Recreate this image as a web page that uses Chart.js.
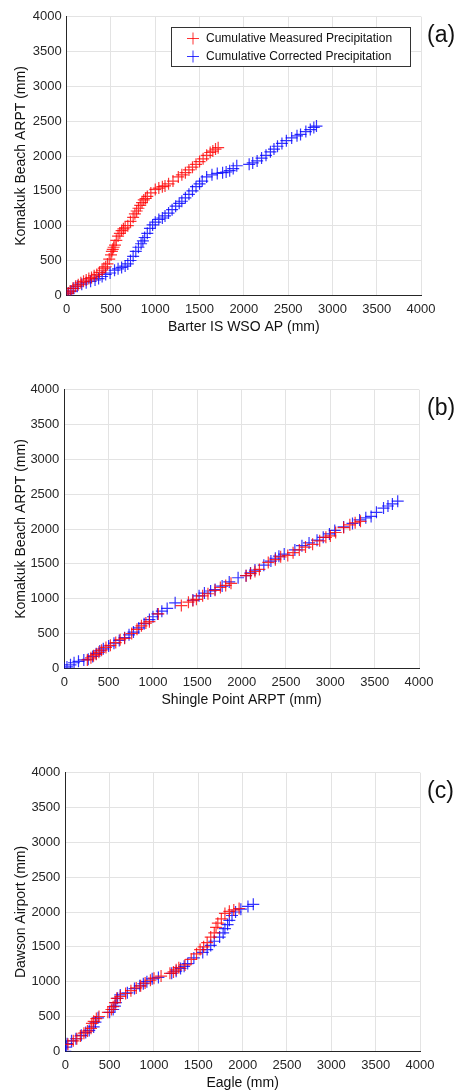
<!DOCTYPE html>
<html>
<head>
<meta charset="utf-8">
<script src="https://cdn.jsdelivr.net/npm/chart.js@4.4.1/dist/chart.umd.min.js"></script>
<style>
  html, body { margin: 0; padding: 0; background: #fff; }
  body { width: 459px; height: 1090px; position: relative; overflow: hidden; font-family: "Liberation Sans", Arial, sans-serif; }
  .panel { position: absolute; left: 0; width: 459px; height: 340px; }
  .tag { position: absolute; left: 427px; font-size: 23px; color: #111; line-height: 1; }
</style>
</head>
<body>
<div class="panel" style="top:0px"><canvas id="chartA" width="459" height="340"></canvas></div>
<div class="panel" style="top:372.6px"><canvas id="chartB" width="459" height="340"></canvas></div>
<div class="panel" style="top:755.6px"><canvas id="chartC" width="459" height="340"></canvas></div>
<div class="tag" style="top:23px">(a)</div>
<div class="tag" style="top:396px">(b)</div>
<div class="tag" style="top:779px">(c)</div>

<script>
// --- DATA (mm, cumulative) ---
const axisTicks = [0, 500, 1000, 1500, 2000, 2500, 3000, 3500, 4000];
const seriesNames = ['Cumulative Measured Precipitation', 'Cumulative Corrected Precipitation'];

// (a) Barter IS WSO AP vs Komakuk Beach ARPT
const aMeasX = [0,15,40,70,100,130,160,190,220,250,280,310,340,370,400,420,440,460,480,500,510,520,530,545,560,580,600,620,640,660,690,720,750,770,790,810,830,850,870,890,910,950,1000,1040,1080,1110,1150,1200,1260,1300,1340,1380,1420,1460,1500,1540,1580,1620,1650,1680,1710];
const aMeasY = [0,30,60,100,130,150,180,200,220,240,255,280,300,330,360,390,410,450,520,580,630,660,690,720,790,850,890,930,955,970,1000,1060,1120,1170,1210,1250,1290,1330,1370,1390,1420,1470,1520,1540,1560,1570,1600,1640,1700,1730,1760,1800,1840,1880,1920,1960,2010,2050,2070,2100,2120];
const aCorrX = [0,20,50,80,120,170,220,270,320,360,400,440,490,540,580,620,660,690,720,750,780,810,840,860,880,910,940,970,1000,1040,1080,1110,1150,1190,1230,1270,1300,1340,1380,1420,1460,1500,1530,1580,1640,1700,1760,1800,1840,1880,1920,2060,2100,2150,2200,2250,2300,2340,2380,2430,2480,2540,2600,2640,2700,2750,2790,2820];
const aCorrY = [0,30,60,100,130,160,180,200,220,240,270,300,320,360,380,400,420,450,500,560,630,690,740,780,830,890,960,1010,1050,1090,1110,1140,1180,1230,1280,1320,1350,1400,1450,1500,1560,1600,1640,1700,1730,1750,1760,1770,1790,1820,1860,1880,1900,1930,1970,2010,2060,2100,2140,2180,2220,2260,2290,2310,2350,2380,2410,2430];

// (b) Shingle Point ARPT vs Komakuk Beach ARPT
const bMeasX = [260,300,330,360,390,420,470,520,580,630,680,760,820,870,920,960,1060,1320,1400,1450,1490,1560,1620,1700,1760,1820,1880,2050,2100,2150,2200,2300,2380,2440,2520,2580,2650,2720,2800,2880,2950,3000,3060,3150,3220,3280,3340];
const bMeasY = [120,150,180,200,230,260,300,330,370,410,430,500,560,610,650,670,780,900,950,970,990,1040,1070,1120,1160,1190,1220,1330,1360,1390,1420,1520,1560,1600,1620,1660,1700,1740,1780,1830,1880,1900,1950,2020,2060,2090,2110];
const bCorrX = [0,30,70,110,160,220,270,320,360,400,440,500,560,620,680,730,780,840,900,960,1000,1050,1100,1160,1250,1450,1520,1580,1650,1700,1780,1860,1960,2050,2100,2150,2250,2330,2380,2420,2480,2600,2680,2760,2850,2920,2990,3050,3150,3250,3330,3400,3460,3520,3600,3650,3700,3760];
const bCorrY = [0,20,50,80,100,120,130,170,210,250,280,320,360,400,440,480,520,580,640,700,740,780,820,860,940,980,1040,1080,1110,1130,1180,1240,1300,1330,1370,1410,1480,1540,1580,1610,1640,1700,1760,1800,1840,1880,1930,1980,2030,2080,2130,2160,2180,2240,2300,2330,2360,2400];

// (c) Eagle vs Dawson Airport
const cMeasX = [30,90,130,170,210,250,290,300,320,350,380,480,520,540,560,580,620,680,740,800,850,900,960,1000,1080,1180,1220,1250,1280,1350,1420,1480,1520,1560,1600,1640,1680,1700,1720,1760,1800,1850,1900,1960];
const cMeasY = [100,150,180,220,260,290,330,400,430,470,500,560,600,640,700,760,790,830,870,910,940,980,1020,1050,1080,1120,1140,1170,1200,1240,1320,1400,1460,1500,1560,1640,1700,1780,1840,1900,1980,2010,2030,2050];
const cCorrX = [0,10,20,70,120,180,230,270,320,340,370,500,540,560,570,590,620,700,780,840,880,920,980,1050,1200,1250,1300,1340,1380,1450,1550,1600,1640,1680,1740,1780,1800,1830,1850,1880,1920,1980,2060,2120];
const cCorrY = [0,60,110,150,180,230,270,300,350,420,480,560,600,650,700,760,810,840,900,940,970,1000,1040,1060,1120,1150,1190,1220,1260,1340,1420,1460,1520,1580,1640,1700,1760,1820,1880,1950,2000,2040,2080,2110];

const RED = 'rgba(255,0,0,0.8)';
const BLUE = 'rgba(0,0,255,0.8)';
const TEXT = '#262626';
const FONT = '"Liberation Sans", Arial, sans-serif';

function toPoints(xs, ys) {
    return xs.map((x, i) => ({ x: x, y: ys[i] }));
}

// legend box drawn inside the plot (panel a only)
const boxLegend = {
    id: 'boxLegend',
    afterDraw(chart, args, opts) {
        if (!opts.show) return;
        const ctx = chart.ctx;
        ctx.save();
        ctx.fillStyle = '#fff';
        ctx.fillRect(171, 27.5, 239, 39);
        ctx.strokeStyle = '#333';
        ctx.lineWidth = 1;
        ctx.strokeRect(171.5, 27.5, 239, 39);
        ctx.font = '12px ' + FONT;
        ctx.textBaseline = 'middle';
        chart.data.datasets.forEach((ds, i) => {
            const y = 38.5 + i * 18;
            ctx.strokeStyle = ds.borderColor;
            ctx.beginPath();
            ctx.moveTo(187, y); ctx.lineTo(199, y);
            ctx.moveTo(193, y - 6); ctx.lineTo(193, y + 6);
            ctx.stroke();
            ctx.fillStyle = '#111';
            ctx.fillText(ds.label, 206, y + 0.5);
        });
        ctx.restore();
    }
};

function makeChart(id, cfg) {
    return new Chart(document.getElementById(id), {
        type: 'scatter',
        data: {
            datasets: [
                { label: seriesNames[0], data: toPoints(cfg.measX, cfg.measY), borderColor: RED, backgroundColor: RED },
                { label: seriesNames[1], data: toPoints(cfg.corrX, cfg.corrY), borderColor: BLUE, backgroundColor: BLUE }
            ]
        },
        options: {
            responsive: false,
            animation: false,
            devicePixelRatio: 1,
            events: [],
            layout: { padding: { left: 0, right: 459 - cfg.right, top: 16.7, bottom: 0 } },
            elements: { point: { pointStyle: 'cross', radius: 6, borderWidth: 1.2 } },
            plugins: {
                legend: { display: false },
                tooltip: { enabled: false },
                boxLegend: { show: cfg.legend }
            },
            scales: {
                x: {
                    type: 'linear', min: 0, max: 4000,
                    afterBuildTicks: s => { s.ticks = axisTicks.map(v => ({ value: v })); },
                    afterFit: s => { s.height = 340 - 295.3; },
                    grid: { color: '#e3e3e3', drawTicks: false },
                    border: { color: TEXT, width: 1 },
                    ticks: { color: TEXT, padding: 6, maxRotation: 0, callback: v => String(v), font: { size: 13, family: FONT } },
                    title: { display: true, text: cfg.xTitle, color: '#111', padding: { top: 0, bottom: 4 }, font: { size: 14, family: FONT } }
                },
                y: {
                    type: 'linear', min: 0, max: 4000,
                    afterBuildTicks: s => { s.ticks = axisTicks.map(v => ({ value: v })); },
                    afterFit: s => { s.width = cfg.left; },
                    grid: { color: '#e3e3e3', drawTicks: false },
                    border: { color: TEXT, width: 1 },
                    ticks: { color: TEXT, padding: 5, callback: v => String(v), font: { size: 13, family: FONT } },
                    title: { display: true, text: cfg.yTitle, color: '#111', padding: { top: 13, bottom: 0 }, font: { size: 14, family: FONT } }
                }
            }
        },
        plugins: [boxLegend]
    });
}

makeChart('chartA', { measX: aMeasX, measY: aMeasY, corrX: aCorrX, corrY: aCorrY, xTitle: 'Barter IS WSO AP (mm)', yTitle: 'Komakuk Beach ARPT (mm)', left: 66.7, right: 421, legend: true });
makeChart('chartB', { measX: bMeasX, measY: bMeasY, corrX: bCorrX, corrY: bCorrY, xTitle: 'Shingle Point ARPT (mm)', yTitle: 'Komakuk Beach ARPT (mm)', left: 64.3, right: 419, legend: false });
makeChart('chartC', { measX: cMeasX, measY: cMeasY, corrX: cCorrX, corrY: cCorrY, xTitle: 'Eagle (mm)', yTitle: 'Dawson Airport (mm)', left: 65.3, right: 420, legend: false });
</script>
</body>
</html>
